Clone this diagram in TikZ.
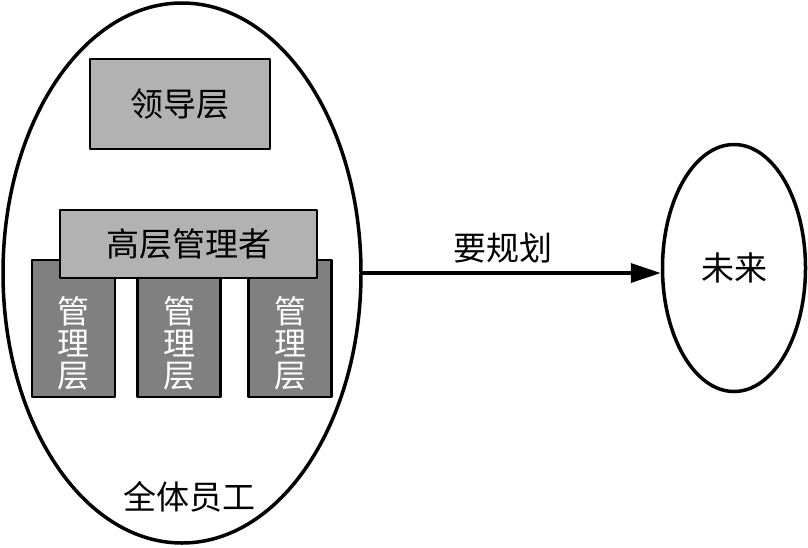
\documentclass[tikz,border=0pt]{standalone}
\usepackage{fontspec}
\setmainfont{Noto Sans CJK SC}
\usetikzlibrary{shapes.geometric,arrows.meta}
\tikzset{
    txt/.style={font=\fontsize{33}{33}\selectfont, inner sep=0pt},
    box/.style={draw, line width=2.8pt, inner sep=0pt, txt},
    lightbox/.style={box, fill=black!30},
    darkbox/.style={box, fill=black!50},
    mgrtext/.style={txt, text=white, align=center, font=\fontsize{32}{32}\selectfont},
    oval/.style={draw, ellipse, line width=3.5pt, inner sep=0pt, txt},
}
\begin{document}
\begin{tikzpicture}[x=1pt, y=-1pt, line join=round]
    % Sfondo
    \fill[white] (0,0) rectangle (808,547);
    \useasboundingbox (0,0) rectangle (808,547);

    % Tutti i dipendenti
    \node[oval, minimum width=358pt, minimum height=540pt] (staff) at (182,273) {};
    \node[txt] (stafflbl) at (189,497) {全体员工};

    % Vertice
    \node[lightbox, minimum width=180pt, minimum height=90pt] (leader) at (180,104) {领导层};

    % Livello intermedio
    \foreach \x [count=\i] in {73.5,179,290} {
        \node[darkbox, minimum width=83pt, minimum height=137pt] (mgr\i) at (\x,328.5) {};
        \node[mgrtext] (mgrtext\i) at (\x,343) {管\\理\\层};
    }

    % Alta direzione
    \node[lightbox, minimum width=257pt, minimum height=68pt] (senior) at (188.5,244) {高层管理者};

    % Futuro
    \node[oval, minimum width=143pt, minimum height=247pt] (future) at (734,268) {未来};

    % Freccia
    \node[txt] (plan) at (503,248) {要规划};
    \draw[line width=3.5pt, -{Triangle[length=30pt, width=19pt]}] (staff.east) -- (staff.east -| future.west);
\end{tikzpicture}
\end{document}
